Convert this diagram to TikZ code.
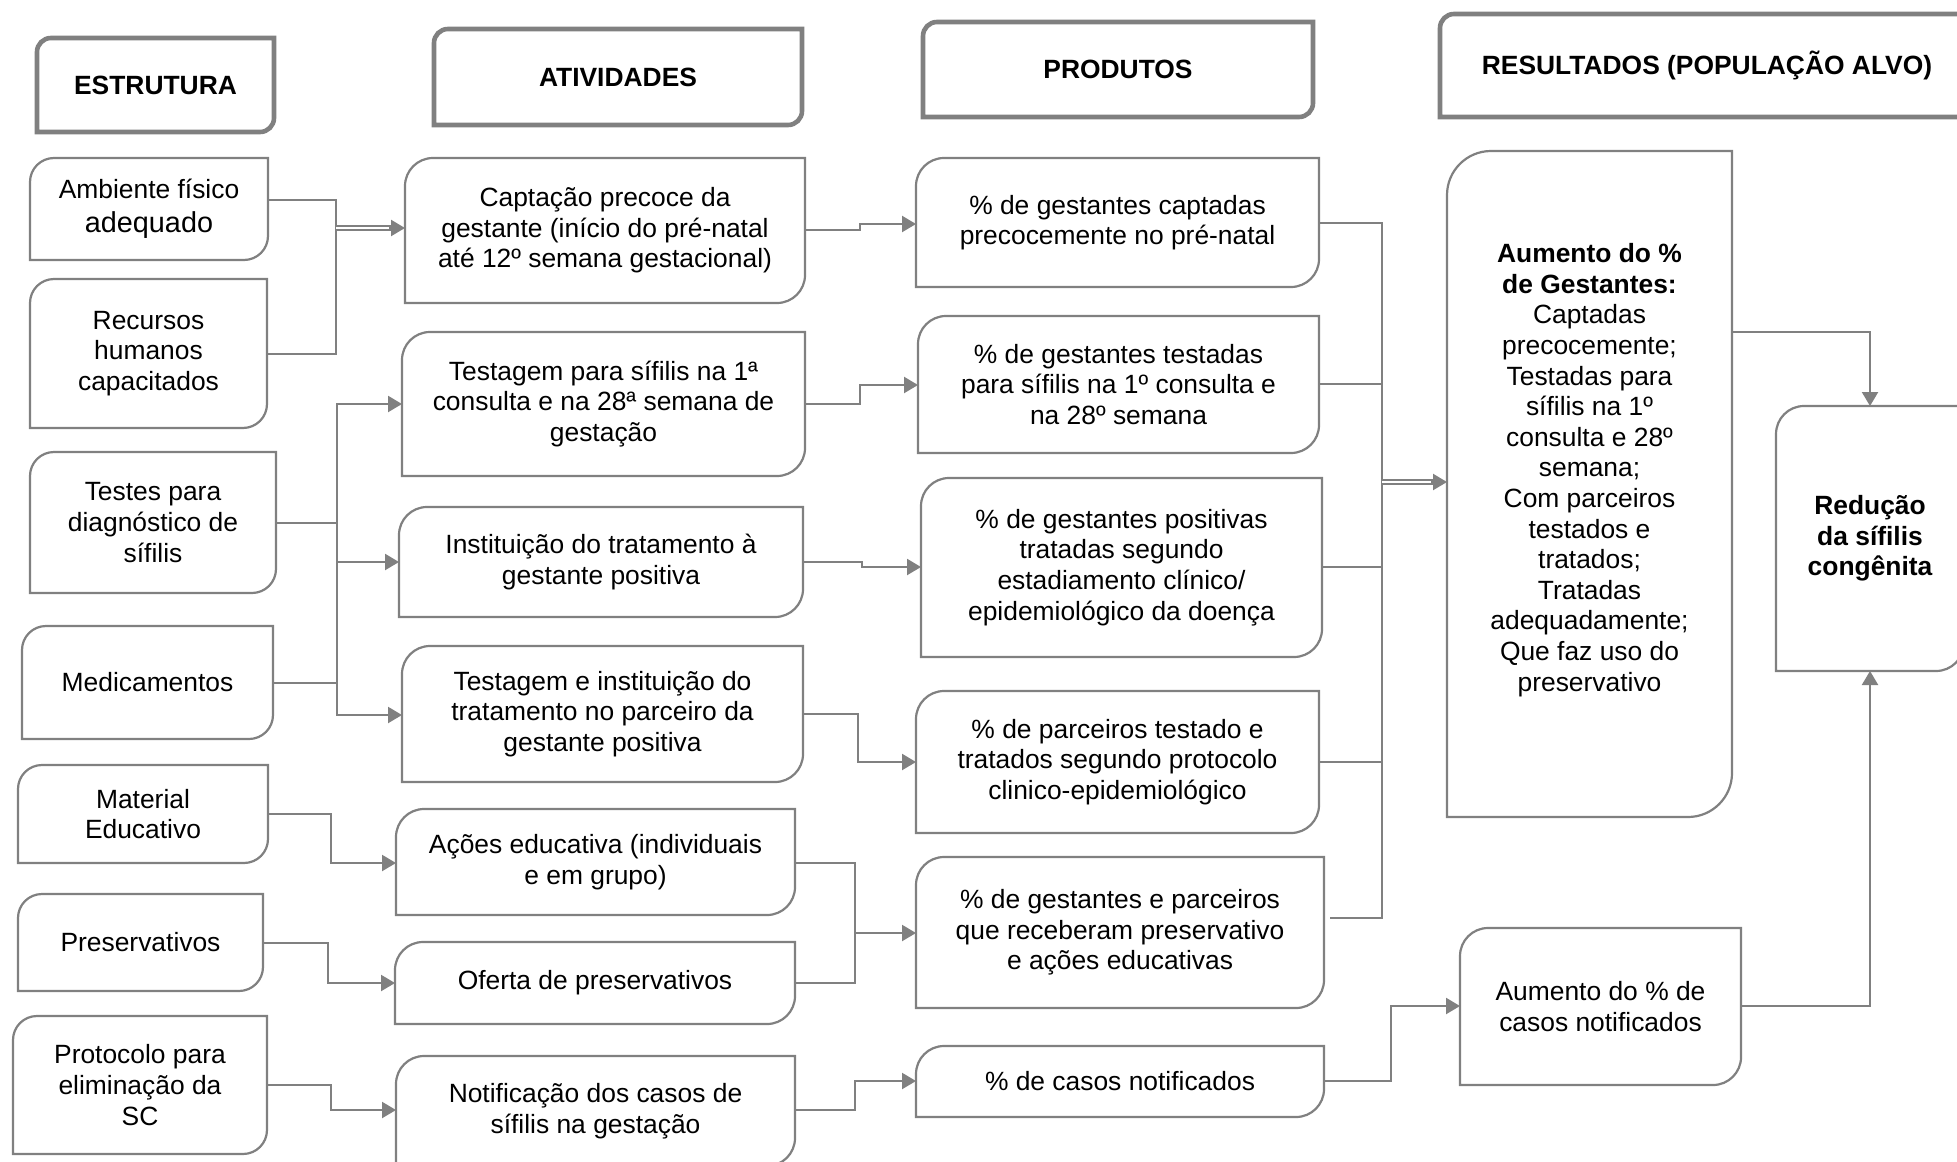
\documentclass[tikz,border=0pt]{standalone}
\usepackage{fontspec}
\setmainfont{Liberation Sans}
\usetikzlibrary{arrows.meta}
\definecolor{lg}{HTML}{808080}
\newcommand\dborder[3]{%
  \draw[#1] (#2.south west) -- ([yshift=-#3]#2.north west)
    arc[start angle=180,end angle=90,radius=#3] -- (#2.north east)
    -- ([yshift=#3]#2.south east)
    arc[start angle=0,end angle=-90,radius=#3] -- cycle;}
\newcommand\mkbox[7][box]{%
  \node[#1,minimum width={(#5-#3)*0.5pt},minimum height={(#6-#4)*0.5pt}]
    (#2) at ({(#3+#5)/2},{(#4+#6)/2}) {#7};}
\begin{document}
\begin{tikzpicture}[x=0.5pt,y=-0.5pt,
  box/.style={rectangle,inner sep=0pt,outer sep=0pt,align=center,
    font=\fontsize{13.2}{15.3}\selectfont},
  hdr/.style={rectangle,inner sep=0pt,outer sep=0pt,align=center,
    font=\fontsize{13.2}{15.3}\selectfont\bfseries},
  boxline/.style={draw=lg,line width=1.1pt},
  hdrline/.style={draw=lg,line width=2.3pt},
  conn/.style={draw=lg,line width=1.1pt},
  arr/.style={conn,-{Triangle[length=7pt,width=8pt]}},
  dbl/.style={draw=lg,line width=0.9pt,double=white,double distance=1.1pt}]
\path[use as bounding box,fill=white] (0,0) rectangle (1957,1161);

% headers
\mkbox[hdr]{h1}{37}{38}{274}{132}{ESTRUTURA}
\mkbox[hdr]{h2}{434}{29}{802}{125}{ATIVIDADES}
\mkbox[hdr]{h3}{923}{22}{1313}{117}{PRODUTOS}
\mkbox[hdr]{h4}{1440}{14}{1974}{117}{RESULTADOS (POPULAÇÃO ALVO)}
\dborder{hdrline}{h1}{7pt}
\dborder{hdrline}{h2}{7pt}
\dborder{hdrline}{h3}{7pt}
\dborder{hdrline}{h4}{7pt}

% estrutura
\mkbox{amb}{30}{158}{268}{260}{Ambiente físico\\[1.5pt]{\fontsize{14.4}{16}\selectfont adequado}}
\mkbox{rec}{30}{279}{267}{428}{Recursos\\humanos\\capacitados}
\mkbox{tes}{30}{452}{276}{593}{Testes para\\diagnóstico de\\sífilis}
\mkbox{med}{22}{626}{273}{739}{Medicamentos}
\mkbox{mat}{18}{765}{268}{863}{Material\\Educativo}
\mkbox{pre}{18}{894}{263}{991}{Preservativos}
\mkbox{pro}{13}{1016}{267}{1154}{Protocolo para\\eliminação da\\SC}
\foreach \n in {amb,rec,tes,med,mat,pre,pro}{\dborder{boxline}{\n}{12pt}}

% atividades
\mkbox{a1}{405}{158}{805}{303}{Captação precoce da\\gestante (início do pré-natal\\até 12º semana gestacional)}
\mkbox{a2}{402}{332}{805}{476}{Testagem para sífilis na 1ª\\consulta e na 28ª semana de\\gestação}
\mkbox{a3}{399}{507}{803}{617}{Instituição do tratamento à\\gestante positiva}
\mkbox{a4}{402}{646}{803}{782}{Testagem e instituição do\\tratamento no parceiro da\\gestante positiva}
\mkbox{a5}{396}{809}{795}{915}{Ações educativa (individuais\\e em grupo)}
\mkbox{a6}{395}{942}{795}{1024}{Oferta de preservativos}
\mkbox{a7}{396}{1056}{795}{1166}{Notificação dos casos de\\sífilis na gestação}
\foreach \n in {a1,a2,a3,a4,a5,a6,a7}{\dborder{boxline}{\n}{14pt}}

% produtos
\mkbox{p1}{916}{158}{1319}{287}{\% de gestantes captadas\\precocemente no pré-natal}
\mkbox{p2}{918}{316}{1319}{453}{\% de gestantes testadas\\para sífilis na 1º consulta e\\na 28º semana}
\mkbox{p3}{921}{478}{1322}{657}{\% de gestantes positivas\\tratadas segundo\\estadiamento clínico/\\epidemiológico da doença}
\mkbox{p4}{916}{691}{1319}{833}{\% de parceiros testado e\\tratados segundo protocolo\\clinico-epidemiológico}
\mkbox{p5}{916}{857}{1324}{1008}{\% de gestantes e parceiros\\que receberam preservativo\\e ações educativas}
\mkbox{p6}{916}{1046}{1324}{1117}{\% de casos notificados}
\foreach \n in {p1,p2,p3,p4,p5,p6}{\dborder{boxline}{\n}{14pt}}

% resultados
\mkbox{r1}{1447}{151}{1732}{817}{}
\node[box] (r1t) at ([yshift=7pt]r1.center) {\textbf{Aumento do \%}\\\textbf{de Gestantes:}\\Captadas\\precocemente;\\Testadas para\\sífilis na 1º\\consulta e 28º\\semana;\\Com parceiros\\testados e\\tratados;\\Tratadas\\adequadamente;\\Que faz uso do\\preservativo};
\mkbox[hdr]{r2}{1776}{406}{1964}{671}{Redução\\da sífilis\\congênita}
\mkbox{r3}{1460}{928}{1741}{1085}{Aumento do \% de\\casos notificados}
\dborder{boxline}{r1}{22pt}
\dborder{boxline}{r2}{14pt}
\dborder{boxline}{r3}{14pt}

% connectors estrutura -> atividades
\draw[conn] (amb.east |- 0,200) -| (336,354) -- (rec.east |- 0,354);
\coordinate (d1) at (a1.west |- 0,228);
\draw[dbl] (336,228) -- ([xshift=-6pt]d1);
\draw[arr] ([xshift=-8pt]d1) -- (d1);
\draw[arr] (tes.east |- 0,523) -| (337,404) -- (a2.west |- 0,404);
\draw[arr] (med.east |- 0,683) -| (337,715) -- (a4.west |- 0,715);
\draw[conn] (337,523) -- (337,683);
\draw[arr] (337,562) -- (a3.west |- 0,562);
\draw[arr] (mat.east |- 0,814) -- (331,814) -- (331,863) -- (a5.west |- 0,863);
\draw[arr] (pre.east |- 0,943) -- (328,943) -- (328,983) -- (a6.west |- 0,983);
\draw[arr] (pro.east |- 0,1085) -- (331,1085) -- (331,1110) -- (a7.west |- 0,1110);

% atividades -> produtos
\draw[arr] (a1.east |- 0,230) -- (860,230) -- (860,224) -- (p1.west |- 0,224);
\draw[arr] (a2.east |- 0,404) -- (860,404) -- (860,385) -- (p2.west |- 0,385);
\draw[arr] (a3.east |- 0,562) -- (862,562) -- (862,567) -- (p3.west |- 0,567);
\draw[arr] (a4.east |- 0,714) -- (858,714) -- (858,762) -- (p4.west |- 0,762);
\draw[conn] (a5.east |- 0,863) -- (855,863) -- (855,983) -- (a6.east |- 0,983);
\draw[arr] (855,933) -- (p5.west |- 0,933);
\draw[arr] (a7.east |- 0,1110) -- (855,1110) -- (855,1081) -- (p6.west |- 0,1081);

% produtos -> resultados
\coordinate (p5o) at ([xshift=3pt]p5.east |- 0,918);
\draw[conn] (p1.east |- 0,223) -- (1382,223) -- (1382,918) -- (p5o);
\draw[conn] (p2.east |- 0,384) -- (1382,384);
\draw[conn] (p3.east |- 0,567) -- (1382,567);
\draw[conn] (p4.east |- 0,762) -- (1382,762);
\coordinate (d2) at (r1.west |- 0,482);
\draw[dbl] (1382,482) -- ([xshift=-6pt]d2);
\draw[arr] ([xshift=-8pt]d2) -- (d2);
\draw[arr] (p6.east |- 0,1081) -- (1391,1081) -- (1391,1006) -- (r3.west |- 0,1006);

% resultados -> impacto
\draw[arr] (r1.east |- 0,332) -| (r2.north);
\draw[arr] (r3.east |- 0,1006) -| (r2.south);
\end{tikzpicture}
\end{document}
